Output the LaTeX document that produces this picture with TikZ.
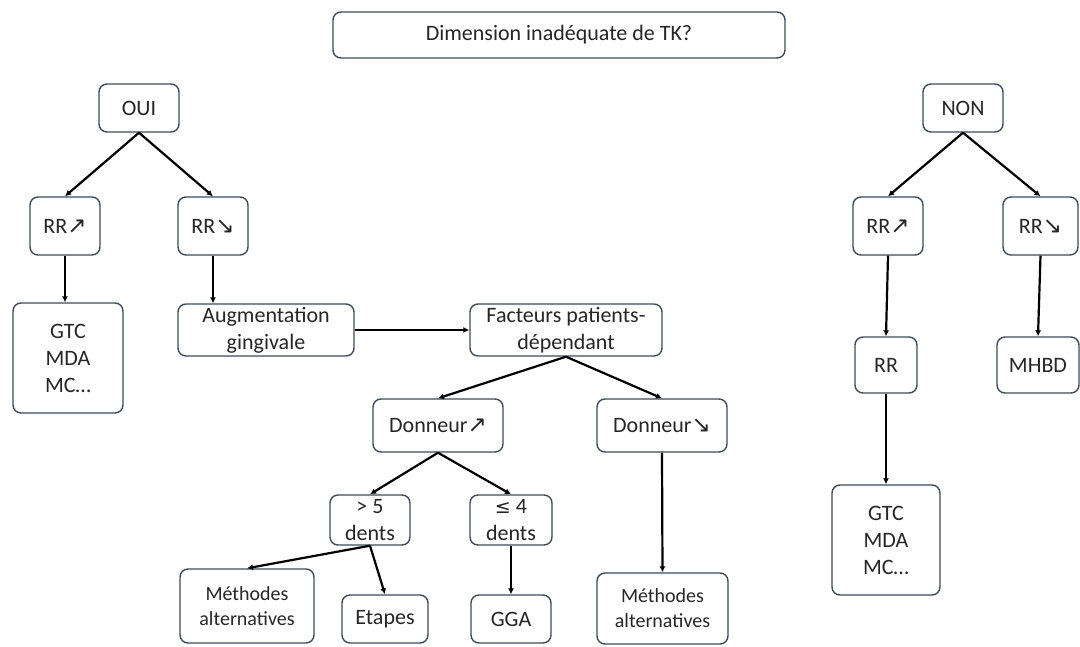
\documentclass[tikz,border=0pt]{standalone}
\usepackage{fontspec}
\setmainfont{Carlito}
\newfontfamily\symfont{DejaVu Sans}
\usetikzlibrary{arrows.meta}
\definecolor{boxc}{HTML}{3E4C59}
\definecolor{txt}{HTML}{262626}
\newcommand{\arup}{{\symfont\fontsize{23}{20}\selectfont ↗}}
\newcommand{\ardn}{{\symfont\fontsize{23}{20}\selectfont ↘}}
\newcommand{\leqsym}{{\symfont\fontsize{19}{20}\selectfont ≤}}
\begin{document}
\begin{tikzpicture}[x=1pt,y=-1pt,
  box/.style={draw=boxc, line width=1.4pt, rounded corners=8pt, align=center,
    font=\fontsize{22}{27}\selectfont, text=txt, inner sep=0pt},
  smallbox/.style={box, font=\fontsize{20}{25}\selectfont},
  arr/.style={-{Latex[length=6pt,width=6pt]}, line width=2.2pt, draw=black}]
\useasboundingbox (0,0) rectangle (1080,646);
\fill[white] (0,0) rectangle (1080,646);

\node[box, minimum width=452pt, minimum height=46pt] (title) at (559,35) {Dimension inadéquate de TK?};

\node[box, minimum width=80pt, minimum height=48pt] (oui) at (139,108) {OUI};
\node[box, minimum width=80pt, minimum height=48pt] (non) at (963,108) {NON};

\node[box, minimum width=70pt, minimum height=58pt] (rrul) at (65,226) {RR\arup};
\node[box, minimum width=70pt, minimum height=58pt] (rrdl) at (213,226) {RR\ardn};
\node[box, minimum width=110pt, minimum height=110pt] (gtcl) at (68,358) {GTC\\MDA\\MC…};
\node[box, minimum width=176pt, minimum height=52pt] (aug) at (266,330) {Augmentation\\gingivale};
\node[box, minimum width=192pt, minimum height=52pt] (fac) at (566,330) {Facteurs patients-\\dépendant};
\node[box, minimum width=130pt, minimum height=53pt] (dup) at (438,425.5) {Donneur\arup};
\node[box, minimum width=130pt, minimum height=53pt] (ddn) at (662,425.5) {Donneur\ardn};
\node[box, minimum width=80pt, minimum height=50pt] (gfive) at (370,520) {> 5\\dents};
\node[box, minimum width=82pt, minimum height=50pt] (lfour) at (511,520) {\leqsym\ 4\\dents};
\node[smallbox, minimum width=134pt, minimum height=74pt] (methl) at (247,606) {Méthodes\\alternatives};
\node[box, minimum width=86pt, minimum height=48pt] (etapes) at (385,619) {Etapes};
\node[box, minimum width=80pt, minimum height=48pt] (gga) at (511,619) {GGA};
\node[smallbox, minimum width=131pt, minimum height=71pt] (methr) at (662.5,608.5) {Méthodes\\alternatives};

\node[box, minimum width=70pt, minimum height=58pt] (rrur) at (888,226) {RR\arup};
\node[box, minimum width=75pt, minimum height=58pt] (rrdr) at (1040.5,226) {RR\ardn};
\node[box, minimum width=62pt, minimum height=56pt] (rr) at (886,365) {RR};
\node[box, minimum width=82pt, minimum height=56pt] (mhbd) at (1038,365) {MHBD};
\node[box, minimum width=108pt, minimum height=110pt] (gtcr) at (886,540) {GTC\\MDA\\MC…};

\draw[arr] (oui.south) -- (rrul.north);
\draw[arr] (oui.south) -- (rrdl.north);
\draw[arr] (rrul.south) -- (rrul.south |- gtcl.north);
\draw[arr] (rrdl.south) -- (rrdl.south |- aug.north);
\draw[arr] (aug.east) -- (fac.west);
\draw[arr] (fac.south) -- (dup.north);
\draw[arr] (fac.south) -- (ddn.north);
\draw[arr] (dup.south) -- (gfive.north);
\draw[arr] (dup.south) -- (lfour.north);
\draw[arr] (gfive.south) -- (methl.north);
\draw[arr] (gfive.south) -- (etapes.north);
\draw[arr] (lfour.south) -- (gga.north);
\draw[arr] (ddn.south) -- (methr.north);
\draw[arr] (non.south) -- (rrur.north);
\draw[arr] (non.south) -- (rrdr.north);
\draw[arr] (rrur.south) -- (rr.north);
\draw[arr] (rr.south) -- (gtcr.north);
\draw[arr] (rrdr.south) -- (mhbd.north);
\end{tikzpicture}
\end{document}
